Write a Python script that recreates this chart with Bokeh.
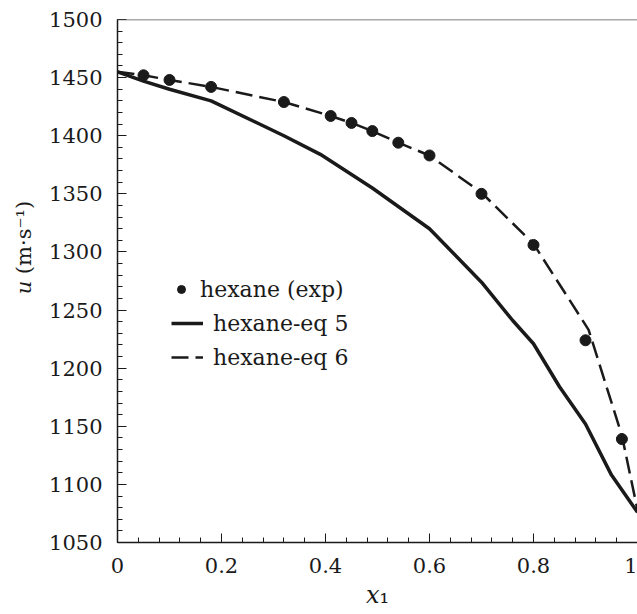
import numpy as np
from bokeh.plotting import figure
from bokeh.models import (Range1d, FixedTicker, Legend, LegendItem, Span)
from bokeh.embed import file_html
from bokeh.resources import INLINE

# ---- data ----
x_exp = [0.05, 0.10, 0.18, 0.32, 0.41, 0.45, 0.49, 0.54, 0.60, 0.70, 0.80, 0.90, 0.97]
u_exp = [1452, 1448, 1442, 1429, 1417, 1411, 1404, 1394, 1383, 1350, 1306, 1224, 1139]

x_eq5 = [0.0, 0.05, 0.10, 0.18, 0.32, 0.39, 0.49, 0.60, 0.70, 0.76, 0.80, 0.85, 0.90, 0.95, 1.0]
u_eq5 = [1455, 1447, 1440, 1430, 1400, 1384, 1355, 1320, 1274, 1241, 1221, 1184, 1152, 1108, 1076]

x_eq6 = [0.0, 0.05, 0.10, 0.18, 0.32, 0.41, 0.45, 0.49, 0.54, 0.60, 0.70, 0.80, 0.906, 0.97, 1.0]
u_eq6 = [1455, 1452, 1448, 1442, 1429, 1417, 1411, 1404, 1394, 1383, 1351, 1307, 1233, 1142, 1078]

x_ticks = [0.0, 0.2, 0.4, 0.6, 0.8, 1.0]
x_tick_labels = ["0", "0.2", "0.4", "0.6", "0.8", "1"]
y_ticks = [1050, 1100, 1150, 1200, 1250, 1300, 1350, 1400, 1450, 1500]

series_names = ["hexane (exp)", "hexane-eq 5", "hexane-eq 6"]
x_title = "𝑥₁"
y_title = "\u00a0" * 10 + "𝑢 (m·s⁻¹)"

FONT = "DejaVu Serif"
INK = "#1a1a1a"

p = figure(width=637, height=614, output_backend="svg", toolbar_location=None,
           x_range=Range1d(0, 1), y_range=Range1d(1050, 1500),
           min_border_left=117, min_border_right=0, min_border_top=19, min_border_bottom=72)
p.background_fill_color = "white"
p.border_fill_color = "white"
p.outline_line_color = None
p.grid.visible = False

# axes
p.xaxis.ticker = FixedTicker(ticks=x_ticks, minor_ticks=list(np.round(np.arange(0, 1.0001, 0.04), 2)))
p.xaxis.major_label_overrides = {t: l for t, l in zip(x_ticks, x_tick_labels)}
p.yaxis.ticker = FixedTicker(ticks=y_ticks, minor_ticks=list(range(1050, 1501, 10)))
for ax in (p.xaxis, p.yaxis):
    ax.axis_line_color = INK
    ax.axis_line_width = 1.5
    ax.major_tick_line_color = INK
    ax.minor_tick_line_color = INK
    ax.major_tick_in = 9
    ax.major_tick_out = 0
    ax.minor_tick_in = 5
    ax.minor_tick_out = 0
    ax.major_label_text_font = FONT
    ax.major_label_text_font_size = "21px"
    ax.major_label_text_color = INK
    ax.axis_label_text_font = FONT
    ax.axis_label_text_font_style = "normal"
    ax.axis_label_text_color = INK
p.xaxis.major_label_standoff = 15
p.yaxis.major_label_standoff = 15
p.xaxis.axis_label = x_title
p.xaxis.axis_label_text_font_size = "24px"
p.xaxis.axis_label_standoff = 5
p.yaxis.axis_label = y_title
p.yaxis.axis_label_text_font_size = "21px"
p.yaxis.axis_label_standoff = 10

top = Span(location=1500, dimension="width", line_color="#555555", line_width=1.5)
p.add_layout(top)

# series
r6 = p.line(x_eq6, u_eq6, line_color=INK, line_width=2.5, line_dash="17 7")
r5 = p.line(x_eq5, u_eq5, line_color=INK, line_width=3.5)
rexp = p.scatter(x_exp, u_exp, size=11, marker="circle", fill_color=INK, line_color=INK)

leg1 = Legend(items=[LegendItem(label=series_names[0], renderers=[rexp])],
              location=(54, 236), glyph_width=20, glyph_height=34, label_height=34,
              label_standoff=9, padding=0, margin=0, spacing=0,
              border_line_color=None, background_fill_alpha=0,
              label_text_font=FONT, label_text_font_size="22px", label_text_color=INK)
leg2 = Legend(items=[LegendItem(label=series_names[1], renderers=[r5]),
                     LegendItem(label=series_names[2], renderers=[r6])],
              location=(54, 168), glyph_width=32, glyph_height=34, label_height=34,
              label_standoff=10, padding=0, margin=0, spacing=0,
              border_line_color=None, background_fill_alpha=0,
              label_text_font=FONT, label_text_font_size="22px", label_text_color=INK)
p.add_layout(leg1, "center")
p.add_layout(leg2, "center")

open("out.html", "w").write(file_html(p, INLINE))
